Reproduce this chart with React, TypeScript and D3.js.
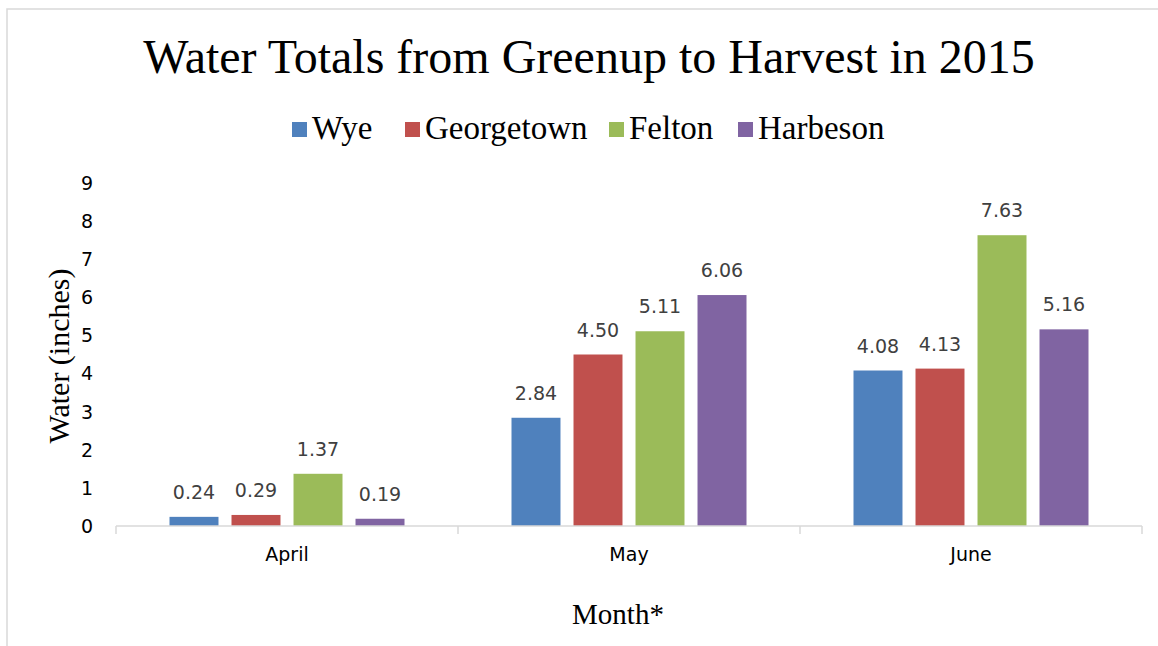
import React, { useEffect, useRef } from "react";
import * as d3 from "d3";

const months = ["April", "May", "June"];
const seriesNames = ["Wye", "Georgetown", "Felton", "Harbeson"];
const wye = [0.24, 2.84, 4.08];
const georgetown = [0.29, 4.5, 4.13];
const felton = [1.37, 5.11, 7.63];
const harbeson = [0.19, 6.06, 5.16];
const yTicks = [0, 1, 2, 3, 4, 5, 6, 7, 8, 9];
const colors = ["#4F81BD", "#C0504D", "#9BBB59", "#8064A2"];

const W = 1158;
const H = 646;
const SANS = "'DejaVu Sans', Verdana, sans-serif";
const SERIF = "'Liberation Serif', 'Times New Roman', serif";

export default function App() {
  const ref = useRef<SVGSVGElement | null>(null);

  useEffect(() => {
    const svg = d3.select(ref.current);
    svg.selectAll("*").remove();
    const values = [wye, georgetown, felton, harbeson];

    const x0 = d3.scaleBand<string>().domain(months).range([116, 1142]).paddingInner(0).paddingOuter(0);
    const catW = x0.bandwidth();
    const x1 = d3
      .scaleBand<string>()
      .domain(seriesNames)
      .range([53.5, catW - 53.5])
      .paddingInner(0.21)
      .paddingOuter(0);
    const y = d3.scaleLinear().domain([0, 9]).range([526, 183]);

    // chart border
    svg
      .append("rect")
      .attr("x", 7)
      .attr("y", 9)
      .attr("width", W + 10)
      .attr("height", H + 10)
      .attr("fill", "#fff")
      .attr("stroke", "#D9D9D9")
      .attr("stroke-width", 1.5);

    // title
    svg
      .append("text")
      .attr("x", 589)
      .attr("y", 73)
      .attr("text-anchor", "middle")
      .attr("font-family", SERIF)
      .attr("font-size", 48)
      .attr("fill", "#000")
      .text("Water Totals from Greenup to Harvest in 2015");

    // legend
    const legendX = [292, 405, 609, 738];
    const lg = svg.append("g");
    seriesNames.forEach((name, i) => {
      lg.append("rect")
        .attr("x", legendX[i])
        .attr("y", 122)
        .attr("width", 15)
        .attr("height", 15)
        .attr("fill", colors[i]);
      lg.append("text")
        .attr("x", legendX[i] + 20)
        .attr("y", 139)
        .attr("font-family", SERIF)
        .attr("font-size", 33)
        .attr("fill", "#000")
        .text(name);
    });

    // y tick labels
    svg
      .append("g")
      .selectAll("text")
      .data(yTicks)
      .join("text")
      .attr("x", 93)
      .attr("y", (d) => y(d))
      .attr("dy", "0.36em")
      .attr("text-anchor", "end")
      .attr("font-family", SANS)
      .attr("font-size", 19)
      .attr("fill", "#000")
      .text((d) => String(d));

    // bars
    const groups = svg
      .append("g")
      .selectAll("g")
      .data(months)
      .join("g")
      .attr("transform", (m) => `translate(${x0(m)},0)`);

    groups.each(function (m, mi) {
      const g = d3.select(this);
      seriesNames.forEach((s, si) => {
        const v = values[si][mi];
        g.append("rect")
          .attr("x", x1(s)!)
          .attr("y", y(v))
          .attr("width", x1.bandwidth())
          .attr("height", y(0) - y(v))
          .attr("fill", colors[si]);
        g.append("text")
          .attr("x", x1(s)! + x1.bandwidth() / 2)
          .attr("y", y(v) - 18)
          .attr("text-anchor", "middle")
          .attr("font-family", SANS)
          .attr("font-size", 19)
          .attr("fill", "#404040")
          .text(v.toFixed(2));
      });
    });

    // x axis line and ticks
    const axis = svg.append("g");
    axis
      .append("line")
      .attr("x1", 116)
      .attr("x2", 1142)
      .attr("y1", y(0))
      .attr("y2", y(0))
      .attr("stroke", "#D9D9D9")
      .attr("stroke-width", 1.5);
    const boundaries = months.map((m) => x0(m)!).concat([x0(months[months.length - 1])! + catW]);
    axis
      .selectAll("line.tick")
      .data(boundaries)
      .join("line")
      .attr("class", "tick")
      .attr("x1", (d) => d)
      .attr("x2", (d) => d)
      .attr("y1", y(0))
      .attr("y2", y(0) + 8)
      .attr("stroke", "#D9D9D9")
      .attr("stroke-width", 1.5);
    axis
      .selectAll("text")
      .data(months)
      .join("text")
      .attr("x", (m) => x0(m)! + catW / 2)
      .attr("y", 561)
      .attr("text-anchor", "middle")
      .attr("font-family", SANS)
      .attr("font-size", 19)
      .attr("fill", "#000")
      .text((m) => m);

    // axis titles
    svg
      .append("text")
      .attr("transform", "translate(69,356) rotate(-90)")
      .attr("text-anchor", "middle")
      .attr("font-family", SERIF)
      .attr("font-size", 30)
      .attr("fill", "#000")
      .text("Water (inches)");
    svg
      .append("text")
      .attr("x", 618)
      .attr("y", 624)
      .attr("text-anchor", "middle")
      .attr("font-family", SERIF)
      .attr("font-size", 29)
      .attr("fill", "#000")
      .text("Month*");
  }, []);

  return (
    <div style={{ position: "absolute", left: 0, top: 0, width: W, height: H, overflow: "hidden" }}>
      <svg ref={ref} width={W} height={H} style={{ display: "block", background: "#fff" }} />
    </div>
  );
}
